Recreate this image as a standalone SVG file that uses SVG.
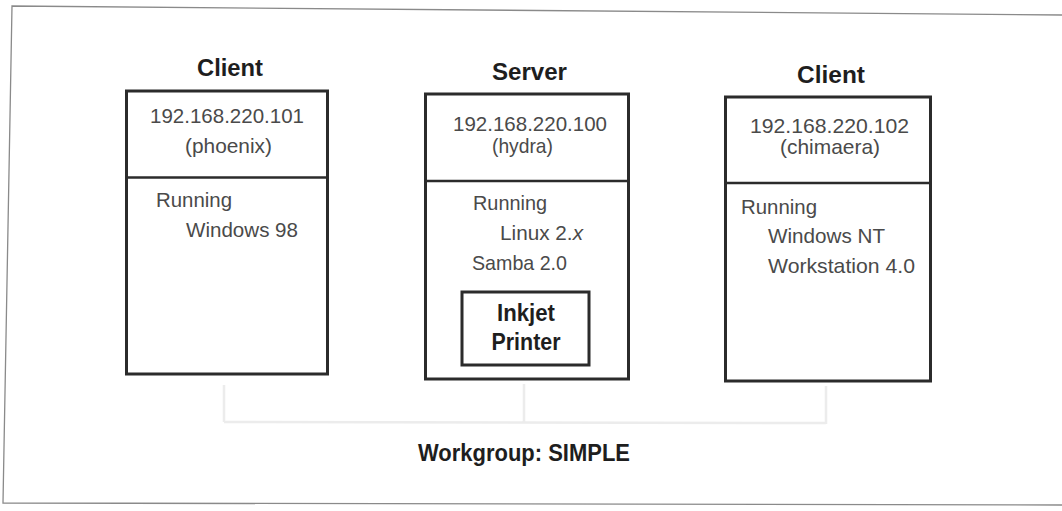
<svg xmlns="http://www.w3.org/2000/svg" width="1062" height="511" viewBox="0 0 1062 511">
  <style>
    .frame { fill: none; stroke: #8a8a8a; stroke-width: 1.3; }
    .box { fill: #ffffff; stroke: #2b2b2b; stroke-width: 3; }
    .div { stroke: #2b2b2b; stroke-width: 2.5; }
    .title { font-family: "Liberation Sans", Arial, sans-serif; font-weight: bold; font-size: 24px; fill: #1e1e1e; }
    .txt { font-family: "Liberation Sans", Arial, sans-serif; font-size: 21px; fill: #4a4a4a; }
    .ghost { fill: none; stroke: #ececec; stroke-width: 2.5; }
  </style>
  <rect x="0" y="0" width="1062" height="511" fill="#ffffff"/>
  <path class="frame" d="M1062,15 L12,6 L3,503 L1062,505"/>

  <g id="connectors">
    <path class="ghost" d="M224,385 L224,422 M524,384 L524,422 M826,386 L826,424 M224,422 L826,423"/>
  </g>

  <g id="client1">
    <text class="title" x="230" y="76" text-anchor="middle" textLength="66" lengthAdjust="spacingAndGlyphs">Client</text>
    <rect class="box" x="126.5" y="91" width="201" height="283"/>
    <line class="div" x1="126.5" y1="177.5" x2="327.5" y2="177.5"/>
    <text class="txt" x="150" y="123" textLength="154" lengthAdjust="spacingAndGlyphs">192.168.220.101</text>
    <text class="txt" x="185" y="153" textLength="87" lengthAdjust="spacingAndGlyphs">(phoenix)</text>
    <text class="txt" x="156" y="207" textLength="76" lengthAdjust="spacingAndGlyphs">Running</text>
    <text class="txt" x="186" y="237" textLength="112" lengthAdjust="spacingAndGlyphs">Windows 98</text>
  </g>

  <g id="server">
    <text class="title" x="529.5" y="80" text-anchor="middle" textLength="75" lengthAdjust="spacingAndGlyphs">Server</text>
    <rect class="box" x="425.5" y="94" width="203" height="285"/>
    <line class="div" x1="425.5" y1="181" x2="628.5" y2="181"/>
    <text class="txt" x="453" y="131" textLength="154" lengthAdjust="spacingAndGlyphs">192.168.220.100</text>
    <text class="txt" x="492" y="153" textLength="61" lengthAdjust="spacingAndGlyphs">(hydra)</text>
    <text class="txt" x="473" y="210" textLength="74" lengthAdjust="spacingAndGlyphs">Running</text>
    <text class="txt" x="500" y="240" textLength="83" lengthAdjust="spacingAndGlyphs">Linux 2.<tspan font-style="italic">x</tspan></text>
    <text class="txt" x="472" y="270" textLength="95" lengthAdjust="spacingAndGlyphs">Samba 2.0</text>
    <g id="printer">
      <rect class="box" x="462" y="292" width="127" height="73"/>
      <text class="title" x="526" y="321" font-size="26" text-anchor="middle" textLength="58" lengthAdjust="spacingAndGlyphs">Inkjet</text>
      <text class="title" x="526" y="350" font-size="26" text-anchor="middle" textLength="69" lengthAdjust="spacingAndGlyphs">Printer</text>
    </g>
  </g>

  <g id="client2">
    <text class="title" x="831" y="83" text-anchor="middle" textLength="68" lengthAdjust="spacingAndGlyphs">Client</text>
    <rect class="box" x="725.5" y="97" width="205" height="284"/>
    <line class="div" x1="725.5" y1="183" x2="930.5" y2="183"/>
    <text class="txt" x="750" y="133" textLength="159" lengthAdjust="spacingAndGlyphs">192.168.220.102</text>
    <text class="txt" x="780" y="154" textLength="100" lengthAdjust="spacingAndGlyphs">(chimaera)</text>
    <text class="txt" x="741" y="214" textLength="76" lengthAdjust="spacingAndGlyphs">Running</text>
    <text class="txt" x="768" y="243" textLength="117" lengthAdjust="spacingAndGlyphs">Windows NT</text>
    <text class="txt" x="768" y="273" textLength="147" lengthAdjust="spacingAndGlyphs">Workstation 4.0</text>
  </g>

  <g id="workgroup">
    <text class="title" x="418" y="461" font-size="26" textLength="212" lengthAdjust="spacingAndGlyphs">Workgroup: SIMPLE</text>
  </g>
</svg>
